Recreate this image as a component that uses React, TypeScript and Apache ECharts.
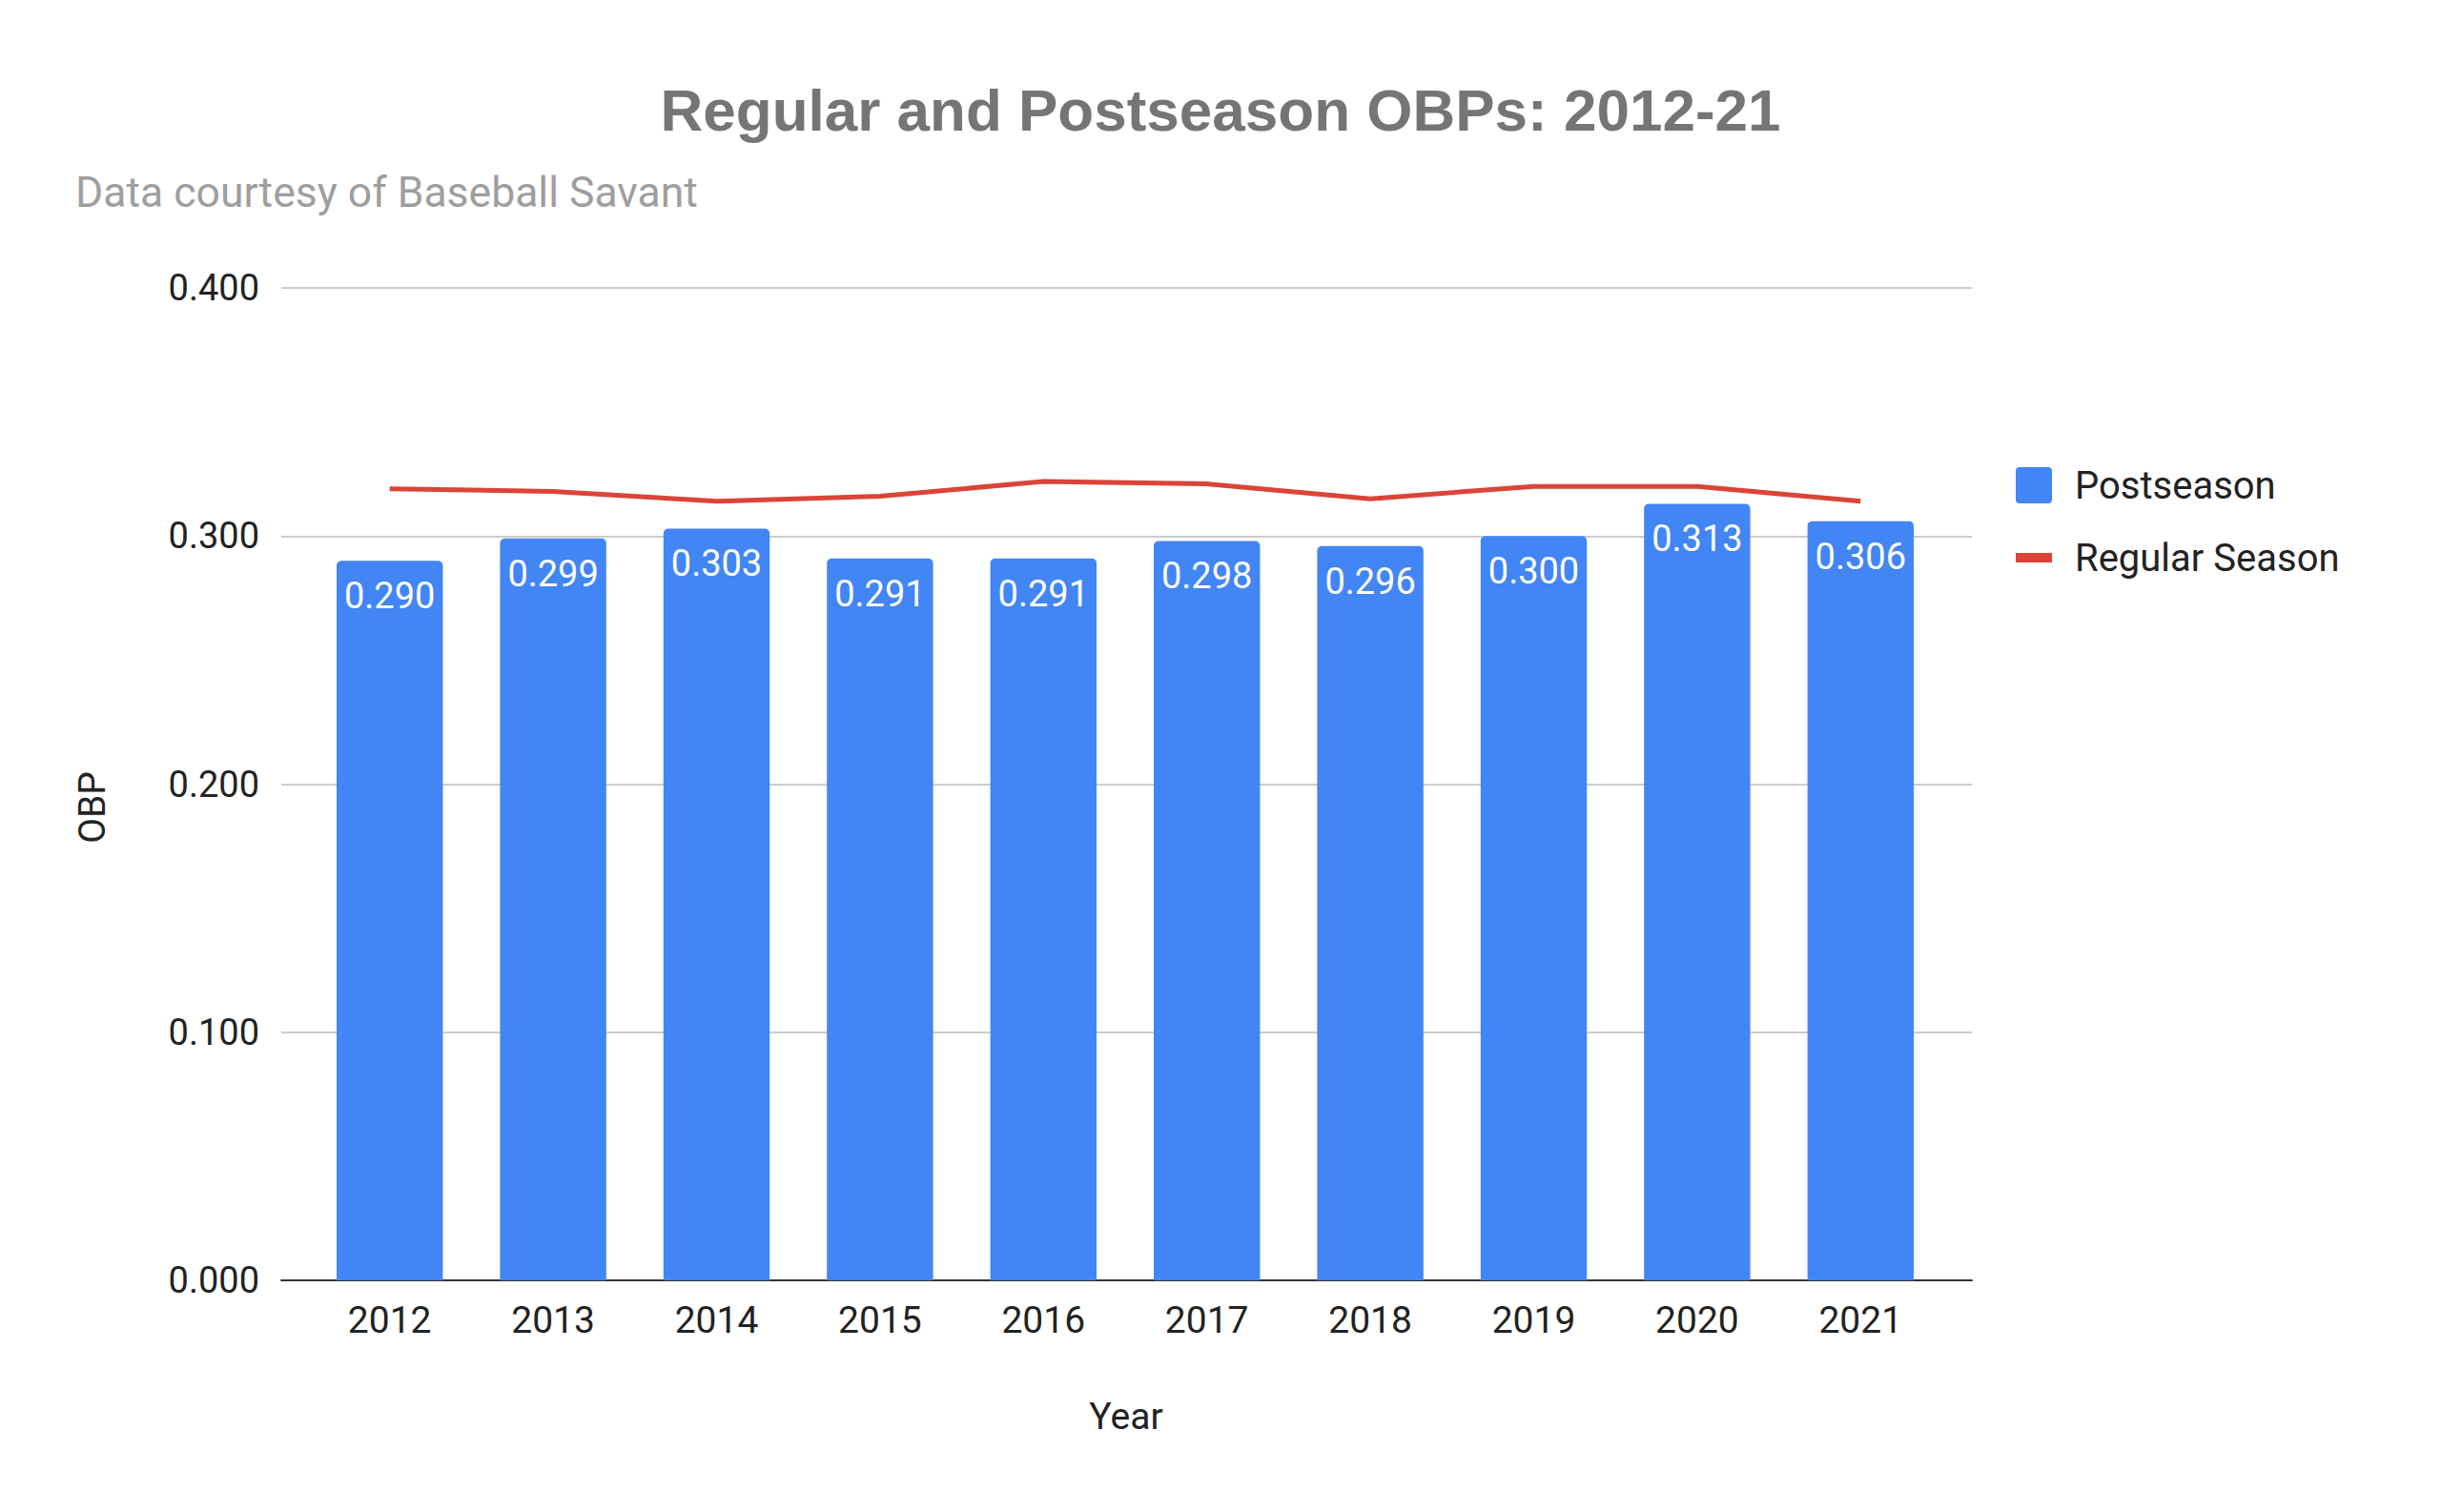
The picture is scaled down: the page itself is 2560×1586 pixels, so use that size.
import React, { useEffect, useRef } from "react";
import * as echarts from "echarts";

const years = ["2012", "2013", "2014", "2015", "2016", "2017", "2018", "2019", "2020", "2021"];
const postseason = [0.29, 0.299, 0.303, 0.291, 0.291, 0.298, 0.296, 0.3, 0.313, 0.306];
const regularSeason = [0.319, 0.318, 0.314, 0.316, 0.322, 0.321, 0.315, 0.32, 0.32, 0.314];
const yTicks = { min: 0, max: 0.4, interval: 0.1 };
const titleText = "Regular and Postseason OBPs: 2012-21";
const subtitleText = "Data courtesy of Baseball Savant";
const xAxisTitle = "Year";
const yAxisTitle = "OBP";

export default function App() {
  const ref = useRef<HTMLDivElement>(null);
  useEffect(() => {
    if (!ref.current) return;
    const chart = echarts.init(ref.current, undefined, { renderer: "svg" });
    const labelColor = "#222222";
    chart.setOption({
      animation: false,
      backgroundColor: "#ffffff",
      textStyle: { fontFamily: "Roboto" },
      graphic: [
        {
          type: "text",
          x: 1280,
          y: 115,
          style: {
            text: titleText,
            align: "center",
            verticalAlign: "middle",
            fontFamily: "Liberation Sans, Arial",
            fontWeight: "bold",
            fontSize: 62,
            fill: "#757575",
          },
        },
        {
          type: "text",
          x: 79,
          y: 202,
          style: {
            text: subtitleText,
            align: "left",
            verticalAlign: "middle",
            fontFamily: "Roboto",
            fontSize: 44.5,
            fill: "#9e9e9e",
          },
        },
        {
          type: "text",
          x: 1181,
          y: 1486,
          style: {
            text: xAxisTitle,
            align: "center",
            verticalAlign: "middle",
            fontFamily: "Roboto",
            fontSize: 39,
            fill: labelColor,
          },
        },
        {
          type: "text",
          x: 97,
          y: 847,
          rotation: Math.PI / 2,
          style: {
            text: yAxisTitle,
            align: "center",
            verticalAlign: "middle",
            fontFamily: "Roboto",
            fontSize: 39,
            fill: labelColor,
          },
        },
      ],
      legend: {
        orient: "vertical",
        left: 2109,
        top: 484,
        itemWidth: 38,
        itemHeight: 38,
        itemGap: 36,
        textStyle: {
          fontFamily: "Roboto",
          fontSize: 40,
          color: labelColor,
          padding: [0, 0, 0, 19],
          lineHeight: 38,
        },
        data: [
          { name: "Postseason", icon: "path://M4,0H34Q38,0 38,4V34Q38,38 34,38H4Q0,38 0,34V4Q0,0 4,0Z" },
          { name: "Regular Season", icon: "path://M0,0H38V10H0Z" },
        ],
      },
      grid: [
        { left: 295, right: 492, top: 302, bottom: 243 },
        { left: 323, right: 523, top: 302, bottom: 243 },
      ],
      xAxis: [
        {
          gridIndex: 0,
          type: "value",
          min: 0,
          max: 1,
          axisLine: { show: true, lineStyle: { color: "#333333", width: 2 } },
          axisTick: { show: false },
          axisLabel: { show: false },
          splitLine: { show: false },
        },
        {
          gridIndex: 1,
          type: "category",
          data: years,
          axisLine: { show: false },
          axisTick: { show: false },
          axisLabel: { fontFamily: "Roboto", fontSize: 39, color: labelColor, margin: 22 },
        },
      ],
      yAxis: [
        {
          gridIndex: 0,
          type: "value",
          min: yTicks.min,
          max: yTicks.max,
          interval: yTicks.interval,
          axisLine: { show: false },
          axisTick: { show: false },
          axisLabel: {
            fontFamily: "Roboto",
            fontSize: 38,
            color: labelColor,
            margin: 23,
            formatter: (v: number) => v.toFixed(3),
          },
          splitLine: { lineStyle: { color: "#cccccc", width: 2 } },
        },
        {
          gridIndex: 1,
          type: "value",
          min: yTicks.min,
          max: yTicks.max,
          interval: yTicks.interval,
          show: false,
          splitLine: { show: false },
        },
      ],
      series: [
        {
          name: "Postseason",
          type: "bar",
          xAxisIndex: 1,
          yAxisIndex: 1,
          data: postseason,
          barWidth: "65%",
          itemStyle: { color: "#4285F4", borderRadius: [5, 5, 0, 0] },
          label: {
            show: true,
            position: "insideTop",
            distance: 18,
            color: "#ffffff",
            fontFamily: "Roboto",
            fontSize: 38,
            formatter: (p: any) => Number(p.value).toFixed(3),
          },
        },
        {
          name: "Regular Season",
          type: "line",
          xAxisIndex: 1,
          yAxisIndex: 1,
          data: regularSeason,
          showSymbol: false,
          symbol: "none",
          lineStyle: { color: "#DB4437", width: 5 },
          itemStyle: { color: "#DB4437" },
          z: 3,
        },
      ],
    });
    return () => chart.dispose();
  }, []);
  return (
    <div
      ref={ref}
      style={{ position: "absolute", left: 0, top: 0, width: 2560, height: 1586 }}
    />
  );
}
